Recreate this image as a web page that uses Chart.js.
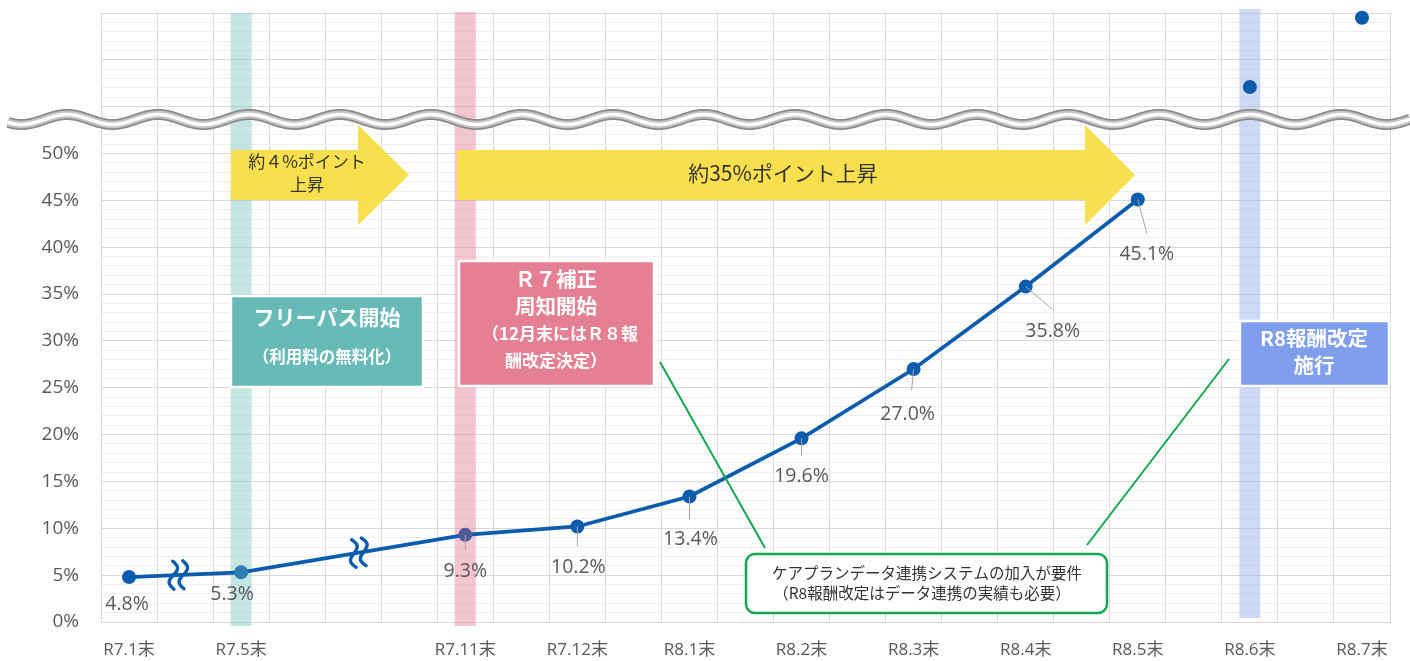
<!DOCTYPE html>
<html><head><meta charset="utf-8">
<script src="https://cdn.jsdelivr.net/npm/chart.js@4/dist/chart.umd.min.js"></script>
<style>html,body{margin:0;padding:0;background:#fff;}canvas{display:block;}</style>
</head><body>
<canvas id="c" width="1410" height="661"></canvas>
<script>
// ---- data ----
const categories = ['R7.1末','R7.5末','','R7.11末','R7.12末','R8.1末','R8.2末','R8.3末','R8.4末','R8.5末','R8.6末','R8.7末'];
const rates = [4.8, 5.3, null, 9.3, 10.2, 13.4, 19.6, 27.0, 35.8, 45.1, null, null];
const aboveBreak = [null, null, null, null, null, null, null, null, null, null, 57.1, 64.5];
const yTickLabels = ['0%','5%','10%','15%','20%','25%','30%','35%','40%','45%','50%'];
const yMax = 65;

// ---- style ----
const FONT = "'Open Sans','Noto Sans CJK JP',sans-serif";
const JFONT = "'Noto Sans CJK JP','Open Sans',sans-serif";
const LINE = '#0b5cad';
const pointColors = rates.map((v,i)=> i===1 ? '#2a7db5' : (i===3 ? '#4f5a9a' : LINE));
// label offsets relative to point: [dx, dy, leaderDx, leaderDy] (leader null = none)
const labelStyle = {
  0:[-2,27,null,null], 1:[-9,22,null,null], 3:[0,37,0,15], 4:[1,41,0,20],
  5:[1,43,0,23], 6:[0,38,0,17], 7:[-6,45,-2,21], 8:[27,45,27,23], 9:[9,55,9,34]
};

const annot = {
  id:'annot',
  beforeDatasetsDraw(chart){
    const {ctx, chartArea:a, scales:{x}} = chart;
    ctx.save();
    const band = (v, col, top, bot) => { const px = x.getPixelForValue(v); ctx.fillStyle = col; ctx.fillRect(px-10.5, top, 21, bot-top); };
    band(1, 'rgba(140,203,200,0.5)', a.top, a.bottom+4);
    band(3, 'rgba(230,140,163,0.5)', a.top-1, a.bottom+4);
    band(10, 'rgba(150,175,235,0.48)', a.top-4, a.bottom-4);
    ctx.restore();
  },
  afterDatasetsDraw(chart){
    const {ctx, chartArea:a, scales:{x,y}} = chart;
    ctx.save();
    // yellow arrows
    const arrow = (x0, x1, xt, top, bot, htop, hbot) => {
      const my = (top+bot)/2;
      ctx.beginPath();
      ctx.moveTo(x0, top); ctx.lineTo(x1, top); ctx.lineTo(x1, htop); ctx.lineTo(xt, my);
      ctx.lineTo(x1, hbot); ctx.lineTo(x1, bot); ctx.lineTo(x0, bot); ctx.closePath();
      ctx.fillStyle = '#f8df4d'; ctx.fill();
    };
    arrow(231, 358, 409, 150, 200, 125, 225);
    arrow(457, 1085, 1135, 150, 200, 125, 225);
    ctx.fillStyle = '#333'; ctx.textAlign='center'; ctx.textBaseline='middle';
    ctx.font = "17px " + JFONT;
    ctx.fillText('約４%ポイント', 307, 162);
    ctx.fillText('上昇', 307, 185);
    ctx.font = "21px " + JFONT;
    ctx.fillText('約35%ポイント上昇', 783, 173);

    // boxes
    const box = (l, t, r, b, col) => {
      ctx.fillStyle = col; ctx.fillRect(l, t, r-l, b-t);
      ctx.strokeStyle = '#fff'; ctx.lineWidth = 2.5; ctx.strokeRect(l, t, r-l, b-t);
    };
    box(231, 296, 423, 387, '#68bab7');
    box(459, 261, 654, 386, '#e57f93');
    box(1240, 321, 1389, 386, '#7f9fed');
    ctx.fillStyle = '#fff';
    ctx.font = "bold 21px " + JFONT;
    ctx.fillText('フリーパス開始', 327, 317);
    ctx.font = "bold 16.5px " + JFONT;
    ctx.fillText('（利用料の無料化）', 327, 357);
    ctx.font = "bold 20.5px " + JFONT;
    ctx.fillText('Ｒ７補正', 556, 279);
    ctx.fillText('周知開始', 556, 306);
    ctx.font = "bold 17px " + JFONT;
    ctx.fillText('（12月末にはＲ８報', 560, 334);
    ctx.fillText('酬改定決定）', 556, 361);
    ctx.font = "bold 20.5px " + JFONT;
    ctx.fillText('R8報酬改定', 1314, 338);
    ctx.fillText('施行', 1314, 365);

    // green connector lines
    ctx.strokeStyle = '#13a84f'; ctx.lineWidth = 2;
    ctx.beginPath(); ctx.moveTo(660, 362); ctx.lineTo(765, 548); ctx.stroke();
    ctx.beginPath(); ctx.moveTo(1229, 359); ctx.lineTo(1087, 545); ctx.stroke();
    // callout
    const rr = (l,t,w,h,r) => { ctx.beginPath(); ctx.moveTo(l+r,t); ctx.arcTo(l+w,t,l+w,t+h,r); ctx.arcTo(l+w,t+h,l,t+h,r); ctx.arcTo(l,t+h,l,t,r); ctx.arcTo(l,t,l+w,t,r); ctx.closePath(); };
    rr(746, 554, 361, 59, 9);
    ctx.fillStyle = '#fff'; ctx.fill();
    ctx.strokeStyle = '#13a84f'; ctx.lineWidth = 2.5; ctx.stroke();
    ctx.fillStyle = '#333'; ctx.font = "15.5px " + JFONT;
    ctx.fillText('ケアプランデータ連携システムの加入が要件', 927, 573);
    ctx.fillText('（R8報酬改定はデータ連携の実績も必要）', 922, 593);

    // squiggle break marks on the line (between two drawn points)
    const squig = (v, i0, i1) => {
      const t = (v-i0)/(i1-i0);
      const val = rates[i0] + t*(rates[i1]-rates[i0]);
      const px = x.getPixelForValue(v), py = y.getPixelForValue(val);
      const ang = Math.atan2(y.getPixelForValue(rates[i1])-y.getPixelForValue(rates[i0]), x.getPixelForValue(i1)-x.getPixelForValue(i0));
      ctx.save(); ctx.translate(px, py); ctx.rotate(ang);
      ctx.strokeStyle = LINE; ctx.lineWidth = 3.4; ctx.lineCap='round';
      for (const off of [-5, 5]) {
        ctx.beginPath();
        for (let k=0;k<=30;k++){ const s=k/30-0.5; const xx = off - 4.5*Math.sin(2*Math.PI*s); const yy = 28*s; k?ctx.lineTo(xx,yy):ctx.moveTo(xx,yy); }
        ctx.stroke();
      }
      ctx.restore();
    };
    squig(0.44, 0, 1); squig(2.05, 1, 3);

    // data labels with leaders
    ctx.font = "19.5px " + FONT; ctx.fillStyle = '#595959';
    rates.forEach((v,i) => {
      if (v==null) return;
      const s = labelStyle[i]; const px = x.getPixelForValue(i), py = y.getPixelForValue(v);
      if (s[2]!=null) { ctx.strokeStyle='#a6a6a6'; ctx.lineWidth=1; ctx.beginPath(); ctx.moveTo(px,py); ctx.lineTo(px+s[2], py+s[3]); ctx.stroke(); }
      ctx.fillText(v.toFixed(1)+'%', px+s[0], py+s[1]);
    });

    // axis-break wave
    const cy=119.5, A=5, P=91;
    const path = () => { ctx.beginPath(); for(let xx=8; xx<=1410; xx++){ const yy = cy - A*Math.cos(2*Math.PI*(xx-67)/P); xx===8?ctx.moveTo(xx,yy):ctx.lineTo(xx,yy);} };
    path(); ctx.strokeStyle='#8a8a8a'; ctx.lineWidth=11; ctx.stroke();
    path(); ctx.strokeStyle='#c4c4c4'; ctx.lineWidth=7.5; ctx.stroke();
    path(); ctx.strokeStyle='#ffffff'; ctx.lineWidth=3.5; ctx.stroke();
    ctx.restore();
  }
};

new Chart(document.getElementById('c'), {
  type:'line',
  data:{ datasets:[
    { data: rates.map((v,i)=>({x:i,y:v})), borderColor: LINE, borderWidth: 3.7, spanGaps: true,
      pointRadius: 7, pointHoverRadius: 7, pointBackgroundColor: pointColors, pointBorderWidth: 0, clip:false },
    { data: aboveBreak.map((v,i)=>({x:i,y:v})), showLine:false, pointRadius: 7, pointBackgroundColor: LINE, pointBorderWidth: 0, clip:false }
  ]},
  options:{
    responsive:false, animation:false, events:[],
    layout:{ padding:{ top:13, right:20, left:0, bottom:0 } },
    plugins:{ legend:{display:false}, tooltip:{enabled:false} },
    scales:{
      x:{ type:'linear', min:-0.25, max:11.25,
        afterBuildTicks(s){ const t=[]; for(let k=0;k<=46;k++) t.push({value:-0.25+0.25*k}); s.ticks=t; },
        afterFit(s){ s.height = 39; s.paddingLeft = 0; s.paddingRight = 0; },
        grid:{ drawTicks:false, color:(c)=>{ const v=c.tick? c.tick.value : 0; const q=(v+0.25)/0.5; return Math.abs(q-Math.round(q))<1e-6 ? '#d9d9d9' : 'rgba(0,0,0,0)'; } },
        border:{ color:'#d9d9d9' },
        ticks:{ autoSkip:false, maxRotation:0, minRotation:0, padding:18, color:'#595959', font:{ family:FONT, size:17 },
          callback:(v)=> Number.isInteger(v) ? categories[v] : '' }
      },
      y:{ type:'linear', min:0, max:yMax,
        afterBuildTicks(s){ const t=[]; for(let k=0;k<=yMax;k++) t.push({value:k}); s.ticks=t; },
        afterFit(s){ s.width = 101; s.paddingTop = 0; s.paddingBottom = 0; },
        grid:{ drawTicks:false, color:(c)=> (c.tick && c.tick.value%5===0) ? '#d9d9d9' : '#efefef' },
        border:{ color:'#d9d9d9' },
        ticks:{ autoSkip:false, padding:22, color:'#595959', font:{ family:FONT, size:19 },
          callback:(v)=> (v%5===0 && v/5 < yTickLabels.length) ? yTickLabels[v/5] : '' }
      }
    }
  },
  plugins:[annot]
});
</script>
</body></html>
